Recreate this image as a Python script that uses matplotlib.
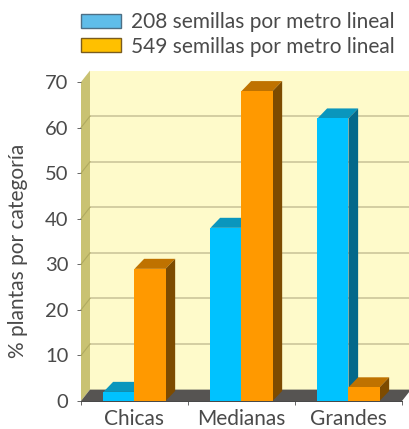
# bar chart with fake 3d look, walls and bar sides drawn as polygons
import matplotlib
matplotlib.use("Agg")
import matplotlib.pyplot as plt
from matplotlib.patches import Patch, Polygon

categories = ["Chicas", "Medianas", "Grandes"]
low_density = [2, 38, 62]
high_density = [29, 68, 3]
series_labels = ["208 semillas por metro lineal", "549 semillas por metro lineal"]
y_ticks = [0, 10, 20, 30, 40, 50, 60, 70]
y_label = "% plantas por categoría"

TEXT = "#4a4a4a"
WALL = "#fefaca"
SIDE_WALL = "#c9c272"
GRID = "#c8c196"
FLOOR = "#565452"

plt.rcParams["font.family"] = ["Lato", "DejaVu Sans"]

W, H = 410, 429
fig = plt.figure(figsize=(W / 100, H / 100), dpi=100)
# axes box is the front plane of the 3d box
ax = fig.add_axes([81 / W, 1 - 401 / H, 321 / W, 319 / H])
ax.set_xlim(-0.5, 2.5)
ax.set_ylim(0, 70)
ax.patch.set_visible(False)

# depth of the box and of the bars, in data units
wall_dx, wall_dy = 0.084, 2.5
bar_dx, bar_dy = 0.09, 2.2
bar_w = 0.29


def poly(points, color, z):
    ax.add_patch(Polygon(points, closed=True, facecolor=color, edgecolor="none",
                         clip_on=False, zorder=z))


x0, x1 = ax.get_xlim()
top = y_ticks[-1]

# back wall, left wall, floor
poly([(x0 + wall_dx, wall_dy), (x1 + wall_dx, wall_dy), (x1 + wall_dx, top + wall_dy), (x0 + wall_dx, top + wall_dy)], WALL, 1)
poly([(x0, 0), (x0 + wall_dx, wall_dy), (x0 + wall_dx, top + wall_dy), (x0, top)], SIDE_WALL, 1.5)
poly([(x0, 0), (x1, 0), (x1 + wall_dx, wall_dy), (x0 + wall_dx, wall_dy)], FLOOR, 2)

# grid lines on back wall and slanted bit on the left wall
for v in y_ticks[1:-1]:
    ax.plot([x0 + wall_dx, x1 + wall_dx], [v + wall_dy, v + wall_dy], color=GRID, lw=1.1, clip_on=False, zorder=1.2)
    ax.plot([x0, x0 + wall_dx], [v, v + wall_dy], color="#b0aa60", lw=0.8, clip_on=False, zorder=1.6)


def bar3d(x, value, front, top_c, side_c):
    ax.bar(x, value, width=bar_w, color=front, align="edge", zorder=5, linewidth=0)
    r = x + bar_w
    poly([(x, value), (r, value), (r + bar_dx, value + bar_dy), (x + bar_dx, value + bar_dy)], top_c, 4)
    poly([(r, 0), (r + bar_dx, bar_dy), (r + bar_dx, value + bar_dy), (r, value)], side_c, 4)


for i in range(len(categories)):
    bar3d(i - bar_w, low_density[i], "#00c2ff", "#0a96bd", "#04688a")
    bar3d(i, high_density[i], "#ff9900", "#bf7200", "#7d4b00")

ax.set_xticks([0.5 + i - 1 for i in range(len(categories) + 1)], minor=True)
ax.set_xticks(range(len(categories)), categories)
ax.set_yticks(y_ticks)
ax.tick_params(axis="x", which="major", length=0, labelsize=15, labelcolor=TEXT, pad=6)
ax.tick_params(axis="x", which="minor", length=3, width=0.7, color="#666666", direction="out")
ax.tick_params(axis="y", length=3, width=0.7, color="#666666", labelsize=14.5, labelcolor=TEXT, pad=6)
ax.set_ylabel(y_label, fontsize=15, color=TEXT)
ax.yaxis.set_label_coords(-0.165, 0.47)
for name in ["top", "right"]:
    ax.spines[name].set_visible(False)
ax.spines["left"].set_visible(False)
ax.spines["bottom"].set_linewidth(0.7)
ax.spines["bottom"].set_color("#444444")

handles = [Patch(facecolor="#5fbde9", edgecolor="#4d6f85", linewidth=1),
           Patch(facecolor="#ffc000", edgecolor="#7a5c1e", linewidth=1)]
fig.legend(handles, series_labels, loc="upper left", bbox_to_anchor=(81 / W, 1 - 12.5 / H),
           frameon=False, fontsize=15, labelcolor=TEXT, handlelength=1.9, handleheight=0.65,
           handletextpad=0.48, labelspacing=0.2, borderpad=0, borderaxespad=0)

fig.savefig("out.png", dpi=100)
